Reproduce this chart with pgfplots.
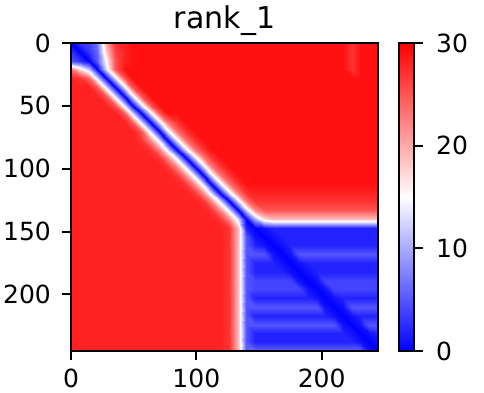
\documentclass[border=0pt]{standalone}
\usepackage{pgfplots}
\pgfplotsset{compat=1.18}
\usepackage{fontspec}
\setmainfont{DejaVu Sans}
\begin{document}
\begin{tikzpicture}
\path[use as bounding box] (0,0) rectangle (363pt,294pt);
\begin{axis}[
  at={(53.25pt,30.75pt)}, anchor=south west,
  width=230.25pt, height=231pt, scale only axis,
  xmin=0, xmax=245, ymin=0, ymax=245, y dir=reverse,
  axis on top,
  xtick={0,100,200}, ytick={0,50,100,150,200},
  tick align=outside, xtick pos=bottom, ytick pos=left,
  major tick length=6.6pt,
  major tick style={line width=1.5pt, black},
  axis line style={line width=1.5pt},
  ticklabel style={font=\fontsize{18.75}{22}\selectfont},
  xticklabel style={yshift=-3pt},
  yticklabel style={xshift=-5pt},
  /pgf/number format/assume math mode=true,
  title={rank\_1},
  title style={font=\fontsize{22.5}{27}\selectfont, at={(0.5,1)}, anchor=base, yshift=4.5pt},
  colormap={bwr}{rgb255=(0,0,255) rgb255=(255,255,255) rgb255=(255,0,0)},
  point meta min=0, point meta max=30,
  colorbar,
  colorbar style={
    at={(1.0684,1)}, anchor=north west, xshift=0pt,
    width=11.25pt, height=231pt, scale only axis,
    ytick={0,10,20,30}, yticklabel pos=right, ytick pos=right,
    tick align=outside, major tick length=6.6pt,
    major tick style={line width=1.5pt, black},
    axis line style={line width=1.5pt},
    ticklabel style={font=\fontsize{18.75}{22}\selectfont},
    yticklabel style={xshift=6.5pt},
    /pgf/number format/assume math mode=true,
  },
]
\addplot[surf, shader=interp, mesh/cols=36, point meta=explicit] table[row sep=\\, x=x, y=y, meta=z]{
x y z\\
0 245 28\\7 245 28\\14 245 28\\21 245 28\\28 245 28\\35 245 28\\42 245 28\\49 245 28\\56 245 28\\63 245 28\\70 245 28\\77 245 28\\84 245 28\\91 245 28\\98 245 28\\105 245 28\\112 245 28\\119 245 28\\126 245 27\\133 245 19\\140 245 6\\147 245 6\\154 245 6\\161 245 6\\168 245 6\\175 245 6\\182 245 6\\189 245 6\\196 245 6\\203 245 6\\210 245 6\\217 245 6\\224 245 6\\231 245 6\\238 245 1\\245 245 0\\
0 238 28\\7 238 28\\14 238 28\\21 238 28\\28 238 28\\35 238 28\\42 238 28\\49 238 28\\56 238 28\\63 238 28\\70 238 28\\77 238 28\\84 238 28\\91 238 28\\98 238 28\\105 238 28\\112 238 28\\119 238 28\\126 238 27\\133 238 19\\140 238 5\\147 238 2\\154 238 2\\161 238 2\\168 238 2\\175 238 2\\182 238 2\\189 238 2\\196 238 2\\203 238 2\\210 238 2\\217 238 2\\224 238 2\\231 238 1\\238 238 0\\245 238 1\\
0 231 28\\7 231 28\\14 231 28\\21 231 28\\28 231 28\\35 231 28\\42 231 28\\49 231 28\\56 231 28\\63 231 28\\70 231 28\\77 231 28\\84 231 28\\91 231 28\\98 231 28\\105 231 28\\112 231 28\\119 231 28\\126 231 27\\133 231 19\\140 231 5\\147 231 2\\154 231 2\\161 231 2\\168 231 2\\175 231 2\\182 231 2\\189 231 2\\196 231 2\\203 231 2\\210 231 2\\217 231 2\\224 231 1\\231 231 0\\238 231 1\\245 231 2\\
0 224 28\\7 224 28\\14 224 28\\21 224 28\\28 224 28\\35 224 28\\42 224 28\\49 224 28\\56 224 28\\63 224 28\\70 224 28\\77 224 28\\84 224 28\\91 224 28\\98 224 28\\105 224 28\\112 224 28\\119 224 28\\126 224 27\\133 224 19\\140 224 5\\147 224 5\\154 224 5\\161 224 5\\168 224 5\\175 224 5\\182 224 5\\189 224 5\\196 224 5\\203 224 5\\210 224 5\\217 224 1\\224 224 0\\231 224 1\\238 224 5\\245 224 5\\
0 217 28\\7 217 28\\14 217 28\\21 217 28\\28 217 28\\35 217 28\\42 217 28\\49 217 28\\56 217 28\\63 217 28\\70 217 28\\77 217 28\\84 217 28\\91 217 28\\98 217 28\\105 217 28\\112 217 28\\119 217 28\\126 217 27\\133 217 19\\140 217 5\\147 217 2\\154 217 2\\161 217 2\\168 217 2\\175 217 2\\182 217 2\\189 217 2\\196 217 2\\203 217 2\\210 217 1\\217 217 0\\224 217 1\\231 217 2\\238 217 2\\245 217 2\\
0 210 28\\7 210 28\\14 210 28\\21 210 28\\28 210 28\\35 210 28\\42 210 28\\49 210 28\\56 210 28\\63 210 28\\70 210 28\\77 210 28\\84 210 28\\91 210 28\\98 210 28\\105 210 28\\112 210 28\\119 210 28\\126 210 27\\133 210 19\\140 210 5\\147 210 5\\154 210 5\\161 210 5\\168 210 5\\175 210 5\\182 210 5\\189 210 5\\196 210 5\\203 210 1\\210 210 0\\217 210 1\\224 210 5\\231 210 5\\238 210 5\\245 210 5\\
0 203 28\\7 203 28\\14 203 28\\21 203 28\\28 203 28\\35 203 28\\42 203 28\\49 203 28\\56 203 28\\63 203 28\\70 203 28\\77 203 28\\84 203 28\\91 203 28\\98 203 28\\105 203 28\\112 203 28\\119 203 28\\126 203 27\\133 203 19\\140 203 5\\147 203 2\\154 203 2\\161 203 2\\168 203 2\\175 203 2\\182 203 2\\189 203 2\\196 203 1\\203 203 0\\210 203 1\\217 203 2\\224 203 2\\231 203 2\\238 203 2\\245 203 2\\
0 196 28\\7 196 28\\14 196 28\\21 196 28\\28 196 28\\35 196 28\\42 196 28\\49 196 28\\56 196 28\\63 196 28\\70 196 28\\77 196 28\\84 196 28\\91 196 28\\98 196 28\\105 196 28\\112 196 28\\119 196 28\\126 196 27\\133 196 19\\140 196 5\\147 196 4\\154 196 4\\161 196 4\\168 196 4\\175 196 4\\182 196 4\\189 196 1\\196 196 0\\203 196 1\\210 196 4\\217 196 4\\224 196 4\\231 196 4\\238 196 4\\245 196 4\\
0 189 28\\7 189 28\\14 189 28\\21 189 28\\28 189 28\\35 189 28\\42 189 28\\49 189 28\\56 189 28\\63 189 28\\70 189 28\\77 189 28\\84 189 28\\91 189 28\\98 189 28\\105 189 28\\112 189 28\\119 189 28\\126 189 27\\133 189 19\\140 189 5\\147 189 4\\154 189 4\\161 189 4\\168 189 4\\175 189 4\\182 189 1\\189 189 0\\196 189 1\\203 189 4\\210 189 4\\217 189 4\\224 189 4\\231 189 4\\238 189 4\\245 189 4\\
0 182 28\\7 182 28\\14 182 28\\21 182 28\\28 182 28\\35 182 28\\42 182 28\\49 182 28\\56 182 28\\63 182 28\\70 182 28\\77 182 28\\84 182 28\\91 182 28\\98 182 28\\105 182 28\\112 182 28\\119 182 28\\126 182 27\\133 182 19\\140 182 5\\147 182 2\\154 182 2\\161 182 2\\168 182 2\\175 182 1\\182 182 0\\189 182 1\\196 182 2\\203 182 2\\210 182 2\\217 182 2\\224 182 2\\231 182 2\\238 182 2\\245 182 2\\
0 175 28\\7 175 28\\14 175 28\\21 175 28\\28 175 28\\35 175 28\\42 175 28\\49 175 28\\56 175 28\\63 175 28\\70 175 28\\77 175 28\\84 175 28\\91 175 28\\98 175 28\\105 175 28\\112 175 28\\119 175 28\\126 175 27\\133 175 19\\140 175 5\\147 175 2\\154 175 2\\161 175 2\\168 175 1\\175 175 0\\182 175 1\\189 175 2\\196 175 2\\203 175 2\\210 175 2\\217 175 2\\224 175 2\\231 175 2\\238 175 2\\245 175 2\\
0 168 28\\7 168 28\\14 168 28\\21 168 28\\28 168 28\\35 168 28\\42 168 28\\49 168 28\\56 168 28\\63 168 28\\70 168 28\\77 168 28\\84 168 28\\91 168 28\\98 168 28\\105 168 28\\112 168 28\\119 168 28\\126 168 27\\133 168 19\\140 168 5\\147 168 5\\154 168 5\\161 168 1\\168 168 0\\175 168 1\\182 168 5\\189 168 5\\196 168 5\\203 168 5\\210 168 5\\217 168 5\\224 168 5\\231 168 5\\238 168 5\\245 168 5\\
0 161 28\\7 161 28\\14 161 28\\21 161 28\\28 161 28\\35 161 28\\42 161 28\\49 161 28\\56 161 28\\63 161 28\\70 161 28\\77 161 28\\84 161 28\\91 161 28\\98 161 28\\105 161 28\\112 161 28\\119 161 28\\126 161 27\\133 161 19\\140 161 5\\147 161 2\\154 161 1\\161 161 0\\168 161 1\\175 161 2\\182 161 2\\189 161 2\\196 161 2\\203 161 2\\210 161 2\\217 161 2\\224 161 2\\231 161 2\\238 161 2\\245 161 2\\
0 154 28\\7 154 28\\14 154 28\\21 154 28\\28 154 28\\35 154 28\\42 154 28\\49 154 28\\56 154 28\\63 154 28\\70 154 28\\77 154 28\\84 154 28\\91 154 28\\98 154 28\\105 154 28\\112 154 28\\119 154 28\\126 154 27\\133 154 19\\140 154 5\\147 154 1\\154 154 0\\161 154 1\\168 154 2\\175 154 2\\182 154 2\\189 154 2\\196 154 2\\203 154 2\\210 154 2\\217 154 2\\224 154 2\\231 154 2\\238 154 2\\245 154 2\\
0 147 28\\7 147 28\\14 147 28\\21 147 28\\28 147 28\\35 147 28\\42 147 28\\49 147 28\\56 147 28\\63 147 28\\70 147 28\\77 147 28\\84 147 28\\91 147 28\\98 147 28\\105 147 28\\112 147 28\\119 147 28\\126 147 27\\133 147 19\\140 147 2\\147 147 0\\154 147 1\\161 147 2\\168 147 2\\175 147 2\\182 147 2\\189 147 2\\196 147 2\\203 147 2\\210 147 2\\217 147 2\\224 147 2\\231 147 2\\238 147 2\\245 147 2\\
0 140 28\\7 140 28\\14 140 28\\21 140 28\\28 140 28\\35 140 28\\42 140 28\\49 140 28\\56 140 28\\63 140 28\\70 140 28\\77 140 28\\84 140 28\\91 140 28\\98 140 28\\105 140 28\\112 140 28\\119 140 27\\126 140 22\\133 140 13\\140 140 0\\147 140 10\\154 140 17\\161 140 19\\168 140 19\\175 140 19\\182 140 19\\189 140 19\\196 140 19\\203 140 19\\210 140 19\\217 140 19\\224 140 19\\231 140 19\\238 140 19\\245 140 19\\
0 133 28\\7 133 28\\14 133 28\\21 133 28\\28 133 28\\35 133 28\\42 133 28\\49 133 28\\56 133 28\\63 133 28\\70 133 28\\77 133 28\\84 133 28\\91 133 28\\98 133 28\\105 133 28\\112 133 27\\119 133 22\\126 133 13\\133 133 0\\140 133 12\\147 133 22\\154 133 25\\161 133 25\\168 133 25\\175 133 25\\182 133 25\\189 133 25\\196 133 25\\203 133 25\\210 133 25\\217 133 25\\224 133 25\\231 133 25\\238 133 25\\245 133 25\\
0 126 28\\7 126 28\\14 126 28\\21 126 28\\28 126 28\\35 126 28\\42 126 28\\49 126 28\\56 126 28\\63 126 28\\70 126 28\\77 126 28\\84 126 28\\91 126 28\\98 126 28\\105 126 27\\112 126 22\\119 126 13\\126 126 0\\133 126 13\\140 126 23\\147 126 27\\154 126 27\\161 126 27\\168 126 27\\175 126 27\\182 126 27\\189 126 27\\196 126 27\\203 126 27\\210 126 27\\217 126 27\\224 126 27\\231 126 27\\238 126 27\\245 126 27\\
0 119 28\\7 119 28\\14 119 28\\21 119 28\\28 119 28\\35 119 28\\42 119 28\\49 119 28\\56 119 28\\63 119 28\\70 119 28\\77 119 28\\84 119 28\\91 119 28\\98 119 27\\105 119 22\\112 119 13\\119 119 0\\126 119 13\\133 119 23\\140 119 27\\147 119 28\\154 119 28\\161 119 28\\168 119 28\\175 119 28\\182 119 28\\189 119 28\\196 119 28\\203 119 28\\210 119 28\\217 119 28\\224 119 28\\231 119 28\\238 119 28\\245 119 28\\
0 112 28\\7 112 28\\14 112 28\\21 112 28\\28 112 28\\35 112 28\\42 112 28\\49 112 28\\56 112 28\\63 112 28\\70 112 28\\77 112 28\\84 112 28\\91 112 27\\98 112 22\\105 112 13\\112 112 0\\119 112 13\\126 112 23\\133 112 27\\140 112 29\\147 112 29\\154 112 29\\161 112 29\\168 112 29\\175 112 29\\182 112 29\\189 112 29\\196 112 29\\203 112 29\\210 112 29\\217 112 29\\224 112 29\\231 112 29\\238 112 29\\245 112 29\\
0 105 28\\7 105 28\\14 105 28\\21 105 28\\28 105 28\\35 105 28\\42 105 28\\49 105 28\\56 105 28\\63 105 28\\70 105 28\\77 105 28\\84 105 27\\91 105 22\\98 105 13\\105 105 0\\112 105 13\\119 105 23\\126 105 27\\133 105 29\\140 105 29\\147 105 29\\154 105 29\\161 105 29\\168 105 29\\175 105 29\\182 105 29\\189 105 29\\196 105 29\\203 105 29\\210 105 29\\217 105 29\\224 105 29\\231 105 29\\238 105 29\\245 105 29\\
0 98 28\\7 98 28\\14 98 28\\21 98 28\\28 98 28\\35 98 28\\42 98 28\\49 98 28\\56 98 28\\63 98 28\\70 98 28\\77 98 27\\84 98 22\\91 98 13\\98 98 0\\105 98 13\\112 98 23\\119 98 27\\126 98 29\\133 98 29\\140 98 29\\147 98 29\\154 98 29\\161 98 29\\168 98 29\\175 98 29\\182 98 29\\189 98 29\\196 98 29\\203 98 29\\210 98 29\\217 98 29\\224 98 29\\231 98 29\\238 98 29\\245 98 29\\
0 91 28\\7 91 28\\14 91 28\\21 91 28\\28 91 28\\35 91 28\\42 91 28\\49 91 28\\56 91 28\\63 91 28\\70 91 27\\77 91 22\\84 91 13\\91 91 0\\98 91 13\\105 91 23\\112 91 27\\119 91 29\\126 91 29\\133 91 29\\140 91 29\\147 91 29\\154 91 29\\161 91 29\\168 91 29\\175 91 29\\182 91 29\\189 91 29\\196 91 29\\203 91 29\\210 91 29\\217 91 29\\224 91 29\\231 91 29\\238 91 29\\245 91 29\\
0 84 28\\7 84 28\\14 84 28\\21 84 28\\28 84 28\\35 84 28\\42 84 28\\49 84 28\\56 84 28\\63 84 27\\70 84 22\\77 84 13\\84 84 0\\91 84 13\\98 84 23\\105 84 27\\112 84 29\\119 84 29\\126 84 29\\133 84 29\\140 84 29\\147 84 29\\154 84 29\\161 84 29\\168 84 29\\175 84 29\\182 84 29\\189 84 29\\196 84 29\\203 84 29\\210 84 29\\217 84 29\\224 84 29\\231 84 29\\238 84 29\\245 84 29\\
0 77 28\\7 77 28\\14 77 28\\21 77 28\\28 77 28\\35 77 28\\42 77 28\\49 77 28\\56 77 27\\63 77 22\\70 77 13\\77 77 0\\84 77 13\\91 77 23\\98 77 27\\105 77 29\\112 77 29\\119 77 29\\126 77 29\\133 77 29\\140 77 29\\147 77 29\\154 77 29\\161 77 29\\168 77 29\\175 77 29\\182 77 29\\189 77 29\\196 77 29\\203 77 29\\210 77 29\\217 77 29\\224 77 29\\231 77 29\\238 77 29\\245 77 29\\
0 70 28\\7 70 28\\14 70 28\\21 70 28\\28 70 28\\35 70 28\\42 70 28\\49 70 28\\56 70 25\\63 70 13\\70 70 0\\77 70 13\\84 70 23\\91 70 27\\98 70 29\\105 70 29\\112 70 29\\119 70 29\\126 70 29\\133 70 29\\140 70 29\\147 70 29\\154 70 29\\161 70 29\\168 70 29\\175 70 29\\182 70 29\\189 70 29\\196 70 29\\203 70 29\\210 70 29\\217 70 29\\224 70 29\\231 70 29\\238 70 29\\245 70 29\\
0 63 28\\7 63 28\\14 63 28\\21 63 28\\28 63 28\\35 63 28\\42 63 28\\49 63 25\\56 63 13\\63 63 0\\70 63 13\\77 63 23\\84 63 27\\91 63 29\\98 63 29\\105 63 29\\112 63 29\\119 63 29\\126 63 29\\133 63 29\\140 63 29\\147 63 29\\154 63 29\\161 63 29\\168 63 29\\175 63 29\\182 63 29\\189 63 29\\196 63 29\\203 63 29\\210 63 29\\217 63 29\\224 63 29\\231 63 29\\238 63 29\\245 63 29\\
0 56 28\\7 56 28\\14 56 28\\21 56 28\\28 56 28\\35 56 28\\42 56 25\\49 56 13\\56 56 0\\63 56 13\\70 56 25\\77 56 29\\84 56 29\\91 56 29\\98 56 29\\105 56 29\\112 56 29\\119 56 29\\126 56 29\\133 56 29\\140 56 29\\147 56 29\\154 56 29\\161 56 29\\168 56 29\\175 56 29\\182 56 29\\189 56 29\\196 56 29\\203 56 29\\210 56 29\\217 56 29\\224 56 29\\231 56 29\\238 56 29\\245 56 29\\
0 49 28\\7 49 28\\14 49 28\\21 49 28\\28 49 28\\35 49 25\\42 49 13\\49 49 0\\56 49 13\\63 49 25\\70 49 29\\77 49 29\\84 49 29\\91 49 29\\98 49 29\\105 49 29\\112 49 29\\119 49 29\\126 49 29\\133 49 29\\140 49 29\\147 49 29\\154 49 29\\161 49 29\\168 49 29\\175 49 29\\182 49 29\\189 49 29\\196 49 29\\203 49 29\\210 49 29\\217 49 29\\224 49 29\\231 49 29\\238 49 29\\245 49 29\\
0 42 28\\7 42 28\\14 42 28\\21 42 28\\28 42 25\\35 42 13\\42 42 0\\49 42 13\\56 42 25\\63 42 29\\70 42 29\\77 42 29\\84 42 29\\91 42 29\\98 42 29\\105 42 29\\112 42 29\\119 42 29\\126 42 29\\133 42 29\\140 42 29\\147 42 29\\154 42 29\\161 42 29\\168 42 29\\175 42 29\\182 42 29\\189 42 29\\196 42 29\\203 42 29\\210 42 29\\217 42 29\\224 42 29\\231 42 29\\238 42 29\\245 42 29\\
0 35 28\\7 35 28\\14 35 28\\21 35 25\\28 35 13\\35 35 0\\42 35 13\\49 35 25\\56 35 29\\63 35 29\\70 35 29\\77 35 29\\84 35 29\\91 35 29\\98 35 29\\105 35 29\\112 35 29\\119 35 29\\126 35 29\\133 35 29\\140 35 29\\147 35 29\\154 35 29\\161 35 29\\168 35 29\\175 35 29\\182 35 29\\189 35 29\\196 35 29\\203 35 29\\210 35 29\\217 35 29\\224 35 29\\231 35 29\\238 35 29\\245 35 29\\
0 28 28\\7 28 27\\14 28 24\\21 28 13\\28 28 0\\35 28 13\\42 28 25\\49 28 29\\56 28 29\\63 28 29\\70 28 29\\77 28 29\\84 28 29\\91 28 29\\98 28 29\\105 28 29\\112 28 29\\119 28 29\\126 28 29\\133 28 29\\140 28 29\\147 28 29\\154 28 29\\161 28 29\\168 28 29\\175 28 29\\182 28 29\\189 28 29\\196 28 29\\203 28 29\\210 28 29\\217 28 29\\224 28 29\\231 28 29\\238 28 29\\245 28 29\\
0 21 23\\7 21 17\\14 21 11\\21 21 0\\28 21 13\\35 21 25\\42 21 29\\49 21 29\\56 21 29\\63 21 29\\70 21 29\\77 21 29\\84 21 29\\91 21 29\\98 21 29\\105 21 29\\112 21 29\\119 21 29\\126 21 29\\133 21 29\\140 21 29\\147 21 29\\154 21 29\\161 21 29\\168 21 29\\175 21 29\\182 21 29\\189 21 29\\196 21 29\\203 21 29\\210 21 29\\217 21 29\\224 21 27\\231 21 29\\238 21 29\\245 21 29\\
0 14 5\\7 14 3\\14 14 0\\21 14 5\\28 14 15\\35 14 25\\42 14 28\\49 14 29\\56 14 29\\63 14 29\\70 14 29\\77 14 29\\84 14 29\\91 14 29\\98 14 29\\105 14 29\\112 14 29\\119 14 29\\126 14 29\\133 14 29\\140 14 29\\147 14 29\\154 14 29\\161 14 29\\168 14 29\\175 14 29\\182 14 29\\189 14 29\\196 14 29\\203 14 29\\210 14 29\\217 14 29\\224 14 27\\231 14 29\\238 14 29\\245 14 29\\
0 7 3\\7 7 0\\14 7 3\\21 7 6\\28 7 18\\35 7 26\\42 7 28\\49 7 29\\56 7 29\\63 7 29\\70 7 29\\77 7 29\\84 7 29\\91 7 29\\98 7 29\\105 7 29\\112 7 29\\119 7 29\\126 7 29\\133 7 29\\140 7 29\\147 7 29\\154 7 29\\161 7 29\\168 7 29\\175 7 29\\182 7 29\\189 7 29\\196 7 29\\203 7 29\\210 7 29\\217 7 29\\224 7 27\\231 7 29\\238 7 29\\245 7 29\\
0 0 0\\7 0 3\\14 0 4\\21 0 7\\28 0 20\\35 0 27\\42 0 28\\49 0 29\\56 0 29\\63 0 29\\70 0 29\\77 0 29\\84 0 29\\91 0 29\\98 0 29\\105 0 29\\112 0 29\\119 0 29\\126 0 29\\133 0 29\\140 0 29\\147 0 29\\154 0 29\\161 0 29\\168 0 29\\175 0 29\\182 0 29\\189 0 29\\196 0 29\\203 0 29\\210 0 29\\217 0 29\\224 0 27\\231 0 29\\238 0 29\\245 0 29\\
};
\end{axis}
\end{tikzpicture}
\end{document}
